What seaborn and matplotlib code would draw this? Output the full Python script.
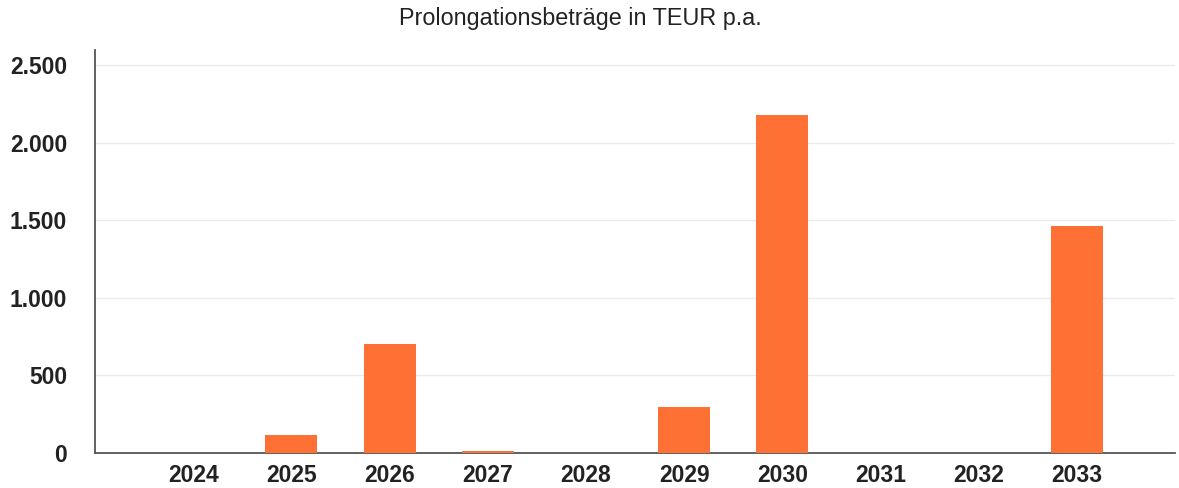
import matplotlib
matplotlib.use("Agg")
import matplotlib.pyplot as plt
import seaborn as sns
import pandas as pd
from matplotlib.ticker import FuncFormatter

years = ["2024", "2025", "2026", "2027", "2028", "2029", "2030", "2031", "2032", "2033"]
values = [0, 118, 700, 10, 0, 295, 2178, 0, 0, 1463]
yticks = [0, 500, 1000, 1500, 2000, 2500]
title = "Prolongationsbeträge in TEUR p.a."

sns.set_theme(style="white")
plt.rcParams["font.family"] = ["Liberation Sans", "DejaVu Sans"]

df = pd.DataFrame({"Jahr": years, "Betrag": values})

fig = plt.figure(figsize=(11.79, 4.88), dpi=100)
ax = fig.add_axes([95 / 1179, 1 - 453 / 488, (1175 - 95) / 1179, (453 - 50) / 488])

sns.barplot(data=df, x="Jahr", y="Betrag", color="#FF7034", saturation=1,
            width=0.53, linewidth=0, ax=ax, zorder=3)

ax.set_xlim(-1.0, 10.0)
ax.set_ylim(0, 2597)
ax.set_yticks(yticks)
ax.yaxis.set_major_formatter(FuncFormatter(lambda v, p: f"{int(v):,}".replace(",", ".")))
ax.grid(axis="y", color="#ebebeb", lw=1.0, zorder=0)
ax.set_xlabel("")
ax.set_ylabel("")

for s in ["top", "right"]:
    ax.spines[s].set_visible(False)
for s in ["left", "bottom"]:
    ax.spines[s].set_color("#555555")
    ax.spines[s].set_linewidth(1.3)

ax.tick_params(axis="x", length=3, color="#cccccc", pad=5, labelsize=16.5, labelcolor="#222222")
ax.tick_params(axis="y", length=0, pad=20, labelsize=16.5, labelcolor="#222222")
for lab in ax.get_xticklabels() + ax.get_yticklabels():
    lab.set_fontweight("bold")

fig.text(580 / 1179, 1 - 18 / 488, title, ha="center", va="center", fontsize=16.8, color="#222222")

fig.savefig("out.png", dpi=100, facecolor="white")
